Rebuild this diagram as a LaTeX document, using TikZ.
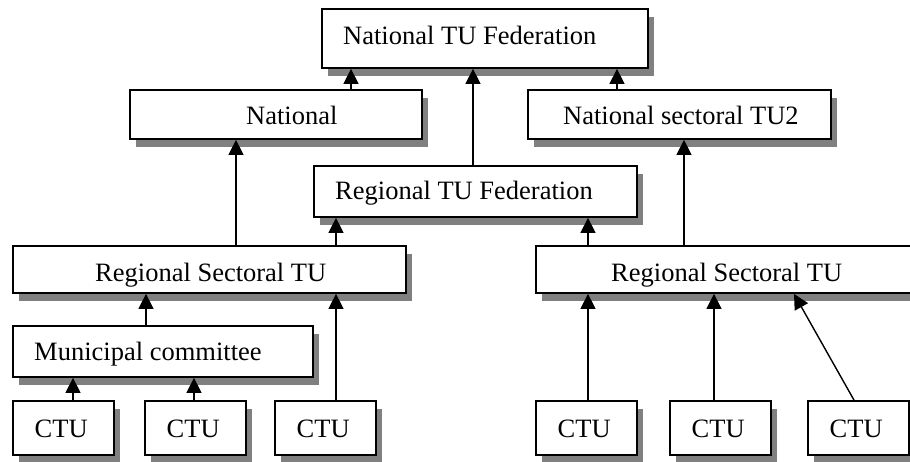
\documentclass[tikz,border=0pt]{standalone}
\usepackage{fontspec}
\setmainfont{Liberation Serif}
\usetikzlibrary{arrows.meta,shadows}

\tikzset{
  caja/.style={draw, line width=1.8pt, fill=white, inner sep=0pt,
    drop shadow={shadow xshift=6pt, shadow yshift=-8pt, fill=black!50, opacity=1}},
  texto/.style={anchor=base west, inner sep=0pt, font=\fontsize{26.5}{30}\selectfont},
  flecha/.style={line width=1.4pt, -{Triangle[width=15pt,length=15pt]}}
}

\begin{document}
\begin{tikzpicture}[x=1pt,y=-1pt]
    % Marco
    \clip (0,0) rectangle (910,462);

    % Cajas de arriba
    \node[caja, minimum width=326pt, minimum height=59pt] (fed) at (485,38.5) {};
    \node[caja, minimum width=292pt, minimum height=49pt] (nat) at (276,114.5) {};
    \node[caja, minimum width=303pt, minimum height=49pt] (nsec) at (679.5,114.5) {};
    \node[caja, minimum width=323pt, minimum height=51pt] (rfed) at (475.5,191.5) {};

    % Cajas regionales
    \node[caja, minimum width=393pt, minimum height=47pt] (rsl) at (209.5,269.5) {};
    \node[caja, minimum width=377pt, minimum height=47pt] (rsr) at (724.5,269.5) {};
    \node[caja, minimum width=300pt, minimum height=51pt] (mc) at (163,351.5) {};

    % CTU
    \foreach \n/\x in {c1/63.5, c2/195.5, c3/325.5, c4/586.5, c5/720.5, c6/858.5} {
        \node[caja, minimum width=101pt, minimum height=54pt] (\n) at (\x,428) {};
        \node[texto] (\n-l) at (\x-29,437) {CTU};
    }

    % Textos
    \node[texto] (fed-l) at (343,45) {National TU Federation};
    \node[texto] (nat-l) at (246,125) {National};
    \node[texto] (nsec-l) at (563,125) {National sectoral TU2};
    \node[texto] (rfed-l) at (335,200) {Regional TU Federation};
    \node[texto] (rsl-l) at (95,282) {Regional Sectoral TU};
    \node[texto] (rsr-l) at (611,282) {Regional Sectoral TU};
    \node[texto] (mc-l) at (34,360) {Municipal committee};

    % Flechas
    \draw[flecha] (nat.north -| 351,0) -- (fed.south -| 351,0);
    \draw[flecha] (rfed.north -| 473,0) -- (fed.south -| 473,0);
    \draw[flecha] (nsec.north -| 617,0) -- (fed.south -| 617,0);
    \draw[flecha] (rsl.north -| 236,0) -- (nat.south -| 236,0);
    \draw[flecha] (rsl.north -| 336,0) -- (rfed.south -| 336,0);
    \draw[flecha] (rsr.north -| 588,0) -- (rfed.south -| 588,0);
    \draw[flecha] (rsr.north -| 684,0) -- (nsec.south -| 684,0);
    \draw[flecha] (mc.north -| 146,0) -- (rsl.south -| 146,0);
    \draw[flecha] (c1.north -| 73,0) -- (mc.south -| 73,0);
    \draw[flecha] (c2.north -| 194,0) -- (mc.south -| 194,0);
    \draw[flecha] (c3.north -| 336,0) -- (rsl.south -| 336,0);
    \draw[flecha] (c4.north -| 588,0) -- (rsr.south -| 588,0);
    \draw[flecha] (c5.north -| 714,0) -- (rsr.south -| 714,0);
    \draw[flecha] (c6.north -| 854,0) -- (rsr.south -| 794,0);

\end{tikzpicture}
\end{document}
